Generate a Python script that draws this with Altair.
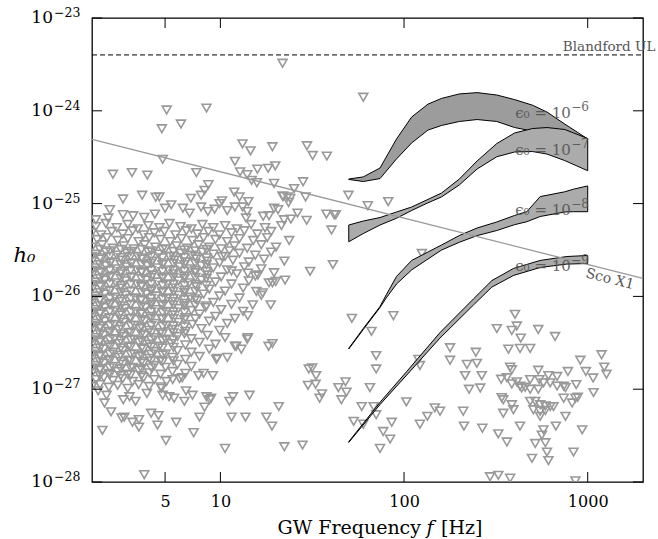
import altair as alt
import pandas as pd

# ---------------- data ----------------
# upper-limit triangles (frequency f [Hz], strain h0)
triangles = [
    # sparse points, upper left / middle
    (5.1, 1.02e-24), (8.4, 1.07e-24), (4.8, 6.4e-25), (6.1, 7.2e-25), (4.85, 3.0e-25),
    (13.2, 4.4e-25), (14.6, 3.7e-25), (19.2, 4.1e-25), (29.6, 4.2e-25), (31.8, 3.3e-25),
    (38.0, 3.25e-25), (12.0, 2.85e-25), (2.6, 2.07e-25), (3.3, 2.16e-25), (4.0, 2.03e-25),
    (7.4, 2.16e-25), (12.8, 2.2e-25), (14.0, 2.05e-25), (15.9, 2.35e-25), (18.2, 2.4e-25),
    (19.9, 2.55e-25), (14.8, 1.78e-25), (15.8, 1.68e-25), (19.6, 1.65e-25), (28.2, 1.72e-25),
    (25.2, 1.45e-25), (22.0, 1.2e-25), (23.2, 1.18e-25), (29.1, 1.18e-25), (23.5, 1.03e-25),
    (49.8, 1.23e-25), (60.0, 1.4e-24), (21.8, 3.25e-24), (2.95, 1.12e-25), (3.75, 1.23e-25),
    (4.45, 1.17e-25), (4.65, 1.18e-25), (5.4, 9.7e-26), (6.9, 1.14e-25), (7.85, 1.23e-25),
    (8.2, 1.39e-25), (8.6, 1.6e-25), (11.9, 1.33e-25), (12.7, 1.18e-25), (14.2, 1.05e-25),
    (21.8, 1.2e-25), (24.0, 1.14e-25), (63.5, 9.5e-26), (82.0, 1.05e-25), (42.5, 7.6e-26),
    (40.3, 5.2e-26), (125.0, 2.9e-26), (41.0, 2.2e-26), (30.8, 1.86e-26),
    # row near 7e-26 .. 1e-25
    (2.5, 8.6e-26), (2.1, 6.7e-26), (2.45, 7.0e-26), (2.95, 7.6e-26), (3.35, 7.4e-26),
    (3.85, 7.1e-26), (4.4, 7.7e-26), (5.0, 8.9e-26), (6.25, 8.9e-26), (6.8, 7.9e-26),
    (7.85, 9.2e-26), (8.55, 8.2e-26), (9.3, 8.7e-26), (9.9, 1.0e-25), (10.2, 1.07e-25),
    (10.9, 8.4e-26), (12.0, 9.2e-26), (13.2, 9.2e-26), (14.0, 8.2e-26), (13.8, 7.0e-26),
    (17.1, 7.3e-26), (18.4, 7.4e-26), (19.6, 8.9e-26), (20.6, 8.6e-26), (22.2, 6.7e-26),
    (24.2, 6.8e-26), (26.3, 7.9e-26), (29.5, 6.6e-26), (37.8, 7.7e-26), (41.6, 7.6e-26),
    # dense low-frequency cloud
    (2.10, 5.65e-26), (2.38, 6.1e-26), (2.73, 5.5e-26), (3.13, 5.95e-26), (3.55, 5.35e-26),
    (4.05, 5.8e-26), (4.66, 5.5e-26), (5.28, 6.1e-26), (6.07, 5.65e-26), (6.95, 5.35e-26),
    (7.98, 5.95e-26), (9.15, 5.5e-26), (10.6, 5.8e-26), (12.3, 5.35e-26), (14.7, 5.95e-26),
    (17.5, 5.5e-26), (21.5, 5.8e-26),
    (2.0, 4.85e-26), (2.24, 4.6e-26), (2.56, 5.0e-26), (2.94, 4.7e-26), (3.33, 5.1e-26),
    (3.82, 4.6e-26), (4.37, 4.85e-26), (4.96, 5.0e-26), (5.7, 4.6e-26), (6.53, 5.1e-26),
    (7.5, 4.7e-26), (8.6, 5.0e-26), (9.9, 4.6e-26), (11.5, 4.85e-26), (13.5, 5.1e-26),
    (15.9, 4.7e-26), (18.9, 5.0e-26),
    (2.13, 4.1e-26), (2.41, 4.3e-26), (2.76, 4.0e-26), (3.13, 4.2e-26), (3.59, 3.9e-26),
    (4.1, 4.3e-26), (4.72, 4.1e-26), (5.34, 3.9e-26), (6.14, 4.2e-26), (7.04, 4.0e-26),
    (8.1, 4.3e-26), (9.4, 4.1e-26), (10.9, 3.9e-26), (12.7, 4.2e-26), (15.1, 4.0e-26),
    (18.0, 4.3e-26), (23.7, 4.0e-26),
    (2.0, 3.4e-26), (2.27, 3.6e-26), (2.6, 3.3e-26), (2.98, 3.5e-26), (3.38, 3.25e-26),
    (3.87, 3.6e-26), (4.43, 3.4e-26), (5.03, 3.25e-26), (5.77, 3.5e-26), (6.6, 3.3e-26),
    (7.6, 3.6e-26), (8.7, 3.4e-26), (10.1, 3.25e-26), (11.9, 3.5e-26), (14.0, 3.3e-26),
    (16.7, 3.6e-26), (20.1, 3.4e-26),
    (2.1, 2.85e-26), (2.38, 3.0e-26), (2.73, 2.78e-26), (3.09, 2.92e-26), (3.55, 2.7e-26),
    (4.05, 3.0e-26), (4.6, 2.85e-26), (5.28, 2.7e-26), (6.07, 2.92e-26), (6.95, 2.78e-26),
    (7.98, 3.0e-26), (9.15, 2.85e-26), (10.6, 2.7e-26), (12.7, 2.92e-26), (15.5, 2.78e-26),
    (18.9, 3.0e-26),
    (2.0, 2.4e-26), (2.24, 2.52e-26), (2.53, 2.35e-26), (2.9, 2.45e-26), (3.29, 2.3e-26),
    (3.77, 2.52e-26), (4.26, 2.4e-26), (4.9, 2.3e-26), (5.62, 2.45e-26), (6.45, 2.35e-26),
    (7.4, 2.52e-26), (8.5, 2.4e-26), (9.9, 2.3e-26), (11.7, 2.45e-26), (14.3, 2.35e-26),
    (17.3, 2.52e-26), (22.3, 2.4e-26),
    (2.1, 2.03e-26), (2.38, 2.13e-26), (2.7, 1.98e-26), (3.09, 2.08e-26), (3.5, 1.93e-26),
    (4.0, 2.13e-26), (4.54, 2.03e-26), (5.21, 1.93e-26), (6.0, 2.08e-26), (6.86, 1.98e-26),
    (7.88, 2.13e-26), (9.15, 2.03e-26), (10.9, 1.93e-26), (13.5, 2.08e-26), (16.7, 1.98e-26),
    (2.0, 1.7e-26), (2.24, 1.8e-26), (2.53, 1.66e-26), (2.87, 1.75e-26), (3.29, 1.62e-26),
    (3.72, 1.8e-26), (4.26, 1.7e-26), (4.84, 1.62e-26), (5.55, 1.75e-26), (6.37, 1.66e-26),
    (7.3, 1.8e-26), (8.5, 1.7e-26), (10.1, 1.62e-26), (12.3, 1.75e-26), (15.5, 1.66e-26),
    (19.6, 1.8e-26),
    (2.1, 1.43e-26), (2.35, 1.5e-26), (2.7, 1.4e-26), (3.05, 1.47e-26), (3.5, 1.36e-26),
    (3.96, 1.5e-26), (4.54, 1.43e-26), (5.15, 1.36e-26), (5.92, 1.47e-26), (6.78, 1.4e-26),
    (7.88, 1.5e-26), (9.4, 1.43e-26), (11.5, 1.36e-26), (14.3, 1.47e-26), (18.4, 1.4e-26),
    (2.0, 1.2e-26), (2.24, 1.27e-26), (2.5, 1.17e-26), (2.87, 1.23e-26), (3.25, 1.14e-26),
    (3.72, 1.27e-26), (4.2, 1.2e-26), (4.84, 1.14e-26), (5.48, 1.23e-26), (6.37, 1.17e-26),
    (7.4, 1.27e-26), (8.7, 1.2e-26), (10.6, 1.14e-26), (13.3, 1.23e-26),
    (2.1, 1.01e-26), (2.35, 1.06e-26), (2.67, 9.8e-27), (3.05, 1.03e-26), (3.46, 9.6e-27),
    (3.96, 1.06e-26), (4.48, 1.01e-26), (5.15, 9.6e-27), (5.92, 1.03e-26), (6.86, 9.8e-27),
    (8.1, 1.06e-26), (9.9, 1.01e-26), (12.7, 9.6e-27), (16.7, 1.03e-26),
    (2.0, 8.6e-27), (2.21, 9.0e-27), (2.5, 8.4e-27), (2.83, 8.8e-27), (3.25, 8.2e-27),
    (3.68, 9.0e-27), (4.2, 8.6e-27), (4.78, 8.2e-27), (5.48, 8.8e-27), (6.37, 8.4e-27),
    (7.5, 9.0e-27), (9.15, 8.6e-27), (11.5, 8.2e-27),
    (2.1, 7.2e-27), (2.35, 7.6e-27), (2.67, 7.05e-27), (3.02, 7.4e-27), (3.46, 6.9e-27),
    (3.91, 7.6e-27), (4.48, 7.2e-27), (5.09, 6.9e-27), (5.92, 7.4e-27), (6.95, 7.05e-27),
    (8.3, 7.6e-27), (10.1, 7.2e-27), (13.3, 6.9e-27),
    (2.0, 6.1e-27), (2.21, 6.45e-27), (2.5, 5.9e-27), (2.83, 6.3e-27), (3.21, 5.8e-27),
    (3.68, 6.45e-27), (4.15, 6.1e-27), (4.78, 5.8e-27), (5.48, 6.3e-27), (6.45, 5.9e-27),
    (7.7, 6.45e-27), (9.4, 6.1e-27), (12.0, 5.8e-27),
    (2.1, 5.1e-27), (2.35, 5.4e-27), (2.64, 5.0e-27), (2.98, 5.25e-27), (3.42, 4.9e-27),
    (3.87, 5.4e-27), (4.43, 5.1e-27), (5.09, 4.9e-27), (5.92, 5.25e-27), (7.04, 5.0e-27),
    (8.7, 5.4e-27), (10.9, 5.1e-27),
    (2.0, 4.3e-27), (2.21, 4.5e-27), (2.47, 4.2e-27), (2.8, 4.4e-27), (3.17, 4.1e-27),
    (3.63, 4.5e-27), (4.1, 4.3e-27), (4.72, 4.1e-27), (5.48, 4.4e-27), (6.45, 4.2e-27),
    (7.88, 4.5e-27), (9.9, 4.3e-27),
    (2.1, 3.6e-27), (2.32, 3.8e-27), (2.64, 3.5e-27), (2.98, 3.7e-27), (3.38, 3.45e-27),
    (3.87, 3.8e-27), (4.37, 3.6e-27), (5.03, 3.45e-27), (5.84, 3.7e-27), (6.95, 3.5e-27),
    (8.5, 3.8e-27), (10.6, 3.6e-27), (14.0, 3.45e-27),
    (2.0, 3.05e-27), (2.21, 3.2e-27), (2.47, 3.0e-27), (2.8, 3.1e-27), (3.17, 2.9e-27),
    (3.59, 3.2e-27), (4.1, 3.05e-27), (4.66, 2.9e-27), (5.4, 3.1e-27), (6.45, 3.0e-27),
    (7.7, 3.2e-27), (9.4, 3.05e-27), (12.0, 2.9e-27),
    (2.1, 2.55e-27), (2.32, 2.7e-27), (2.6, 2.5e-27), (2.94, 2.6e-27), (3.38, 2.4e-27),
    (3.82, 2.7e-27), (4.37, 2.55e-27), (5.03, 2.4e-27), (5.84, 2.6e-27), (6.95, 2.5e-27),
    (8.7, 2.7e-27),
    (2.0, 2.15e-27), (2.21, 2.25e-27), (2.47, 2.1e-27), (2.8, 2.2e-27), (3.17, 2.05e-27),
    (3.59, 2.25e-27), (4.1, 2.15e-27), (4.72, 2.05e-27), (5.48, 2.2e-27), (6.45, 2.1e-27),
    (7.7, 2.25e-27), (9.6, 2.15e-27),
    (2.1, 1.8e-27), (2.32, 1.9e-27), (2.6, 1.76e-27), (2.94, 1.85e-27), (3.33, 1.72e-27),
    (3.82, 1.9e-27), (4.37, 1.8e-27), (5.03, 1.72e-27), (5.84, 1.85e-27), (6.95, 1.76e-27),
    (2.0, 1.5e-27), (2.21, 1.6e-27), (2.47, 1.48e-27), (2.76, 1.55e-27), (3.13, 1.45e-27),
    (3.59, 1.6e-27), (4.1, 1.5e-27), (4.72, 1.45e-27), (5.48, 1.55e-27), (6.45, 1.48e-27),
    (2.1, 1.27e-27), (2.32, 1.34e-27), (2.6, 1.24e-27), (2.94, 1.3e-27), (3.33, 1.21e-27),
    (3.82, 1.34e-27), (4.37, 1.27e-27), (5.09, 1.21e-27), (6.0, 1.3e-27),
    (2.0, 1.07e-27), (2.21, 1.12e-27), (2.47, 1.05e-27), (2.76, 1.1e-27), (3.13, 1.02e-27),
    (3.59, 1.12e-27), (4.1, 1.07e-27), (4.78, 1.02e-27),
    # extra points filling the core of the cloud
    (2.21, 3.2e-26), (2.5, 3.1e-26), (2.87, 3.2e-26), (3.25, 3.05e-26), (3.72, 3.2e-26),
    (4.2, 3.1e-26), (4.84, 3.2e-26), (5.55, 3.05e-26), (6.37, 3.15e-26), (7.3, 3.1e-26),
    (8.4, 3.2e-26), (11.2, 3.1e-26),
    (2.0, 2.7e-26), (2.21, 2.6e-26), (2.5, 2.7e-26), (2.87, 2.62e-26), (3.25, 2.7e-26),
    (3.72, 2.6e-26), (4.2, 2.68e-26), (4.84, 2.6e-26), (5.55, 2.7e-26), (6.37, 2.62e-26),
    (7.3, 2.68e-26), (8.4, 2.6e-26), (10.2, 2.68e-26),
    (2.21, 2.2e-26), (2.5, 2.28e-26), (2.87, 2.2e-26), (3.25, 2.26e-26), (3.72, 2.2e-26),
    (4.2, 2.27e-26), (4.84, 2.2e-26), (5.55, 2.25e-26), (6.37, 2.2e-26), (7.3, 2.26e-26),
    (8.4, 2.2e-26),
    (2.0, 1.9e-26), (2.21, 1.86e-26), (2.5, 1.9e-26), (2.87, 1.85e-26), (3.25, 1.9e-26),
    (3.72, 1.86e-26), (4.2, 1.9e-26), (4.84, 1.85e-26), (5.55, 1.9e-26), (6.37, 1.86e-26),
    (7.3, 1.9e-26), (8.4, 1.85e-26), (11.5, 1.88e-26),
    (2.21, 1.56e-26), (2.5, 1.6e-26), (2.87, 1.56e-26), (3.25, 1.6e-26), (3.72, 1.55e-26),
    (4.2, 1.6e-26), (4.84, 1.56e-26), (5.55, 1.6e-26), (6.37, 1.56e-26), (7.3, 1.6e-26),
    (8.4, 1.56e-26),
    (2.0, 1.35e-26), (2.21, 1.31e-26), (2.5, 1.35e-26), (2.87, 1.31e-26), (3.25, 1.35e-26),
    (3.72, 1.32e-26), (4.2, 1.35e-26), (4.84, 1.31e-26), (5.55, 1.35e-26), (6.37, 1.31e-26),
    (7.3, 1.34e-26), (8.4, 1.31e-26),
    (2.21, 1.1e-26), (2.5, 1.14e-26), (2.87, 1.1e-26), (3.25, 1.13e-26), (3.72, 1.1e-26),
    (4.2, 1.14e-26), (4.84, 1.1e-26), (5.55, 1.13e-26), (6.37, 1.1e-26), (7.3, 1.13e-26),
    (2.0, 9.5e-27), (2.21, 9.3e-27), (2.5, 9.5e-27), (2.87, 9.3e-27), (3.25, 9.5e-27),
    (3.72, 9.2e-27), (4.2, 9.5e-27), (4.84, 9.3e-27), (5.55, 9.5e-27), (6.37, 9.2e-27),
    (7.3, 9.4e-27),
    (2.21, 7.9e-27), (2.5, 8.1e-27), (2.87, 7.9e-27), (3.25, 8.1e-27), (3.72, 7.9e-27),
    (4.2, 8.1e-27), (4.84, 7.9e-27), (5.55, 8.1e-27), (6.37, 7.9e-27), (7.3, 8.0e-27),
    (8.4, 7.9e-27),
    (2.0, 6.8e-27), (2.21, 6.7e-27), (2.5, 6.85e-27), (2.87, 6.7e-27), (3.25, 6.8e-27),
    (3.72, 6.65e-27), (4.2, 6.8e-27), (4.84, 6.7e-27), (5.55, 6.8e-27), (6.37, 6.7e-27),
    (2.21, 5.65e-27), (2.5, 5.8e-27), (2.87, 5.65e-27), (3.25, 5.8e-27), (3.72, 5.6e-27),
    (4.2, 5.8e-27), (4.84, 5.65e-27), (5.55, 5.75e-27), (6.37, 5.6e-27), (7.3, 5.75e-27),
    (2.0, 4.85e-27), (2.21, 4.75e-27), (2.5, 4.85e-27), (2.87, 4.75e-27), (3.25, 4.85e-27),
    (3.72, 4.7e-27), (4.2, 4.85e-27), (4.84, 4.75e-27), (5.55, 4.8e-27), (6.37, 4.7e-27),
    (2.21, 3.95e-27), (2.5, 4.05e-27), (2.87, 3.95e-27), (3.25, 4.05e-27), (3.72, 3.95e-27),
    (4.2, 4.05e-27), (4.84, 3.95e-27), (5.55, 4.05e-27), (6.37, 3.95e-27),
    (2.0, 3.4e-27), (2.21, 3.35e-27), (2.5, 3.42e-27), (2.87, 3.35e-27), (3.25, 3.4e-27),
    (3.72, 3.33e-27), (4.2, 3.4e-27), (4.84, 3.35e-27), (5.55, 3.4e-27),
    (2.21, 2.78e-27), (2.5, 2.85e-27), (2.87, 2.78e-27), (3.25, 2.85e-27), (3.72, 2.78e-27),
    (4.2, 2.85e-27), (4.84, 2.78e-27), (5.55, 2.82e-27),
    (2.0, 2.38e-27), (2.21, 2.33e-27), (2.5, 2.38e-27), (2.87, 2.33e-27), (3.25, 2.38e-27),
    (3.72, 2.33e-27), (4.2, 2.38e-27), (4.84, 2.33e-27),
    (2.21, 1.98e-27), (2.5, 2.03e-27), (2.87, 1.98e-27), (3.25, 2.02e-27), (3.72, 1.98e-27),
    (4.2, 2.02e-27), (4.84, 1.98e-27), (5.55, 2.02e-27),
    (2.0, 1.7e-27), (2.21, 1.66e-27), (2.5, 1.7e-27), (2.87, 1.66e-27), (3.25, 1.7e-27),
    (3.72, 1.66e-27), (4.2, 1.7e-27),
    (2.21, 1.4e-27), (2.5, 1.43e-27), (2.87, 1.4e-27), (3.25, 1.43e-27), (3.72, 1.4e-27),
    # lower edge of the cloud and sparse low points
    (2.34, 7.1e-28), (2.16, 9.6e-28), (2.4, 8.6e-28), (2.96, 7.7e-28), (3.2, 8.3e-28),
    (3.45, 7.4e-28), (3.98, 9.0e-28), (4.85, 8.6e-28), (5.26, 8.3e-28), (5.6, 8.0e-28),
    (6.37, 7.4e-28), (7.05, 8.6e-28), (8.4, 8.3e-28), (8.75, 7.7e-28), (6.5, 9.6e-28),
    (4.75, 1.06e-27), (2.54, 5.7e-28), (2.9, 4.9e-28), (3.0, 5.0e-28), (3.6, 4.7e-28),
    (3.32, 4.4e-28), (4.2, 5.5e-28), (4.6, 5.2e-28), (4.55, 4.1e-28), (5.75, 4.4e-28),
    (3.6, 3.9e-28), (2.28, 3.6e-28), (5.05, 2.8e-28), (7.15, 3.4e-28), (7.7, 5.0e-28),
    (8.2, 6.4e-28), (8.9, 8.0e-28), (11.2, 7.4e-28), (11.7, 8.3e-28), (14.4, 8.6e-28),
    (20.8, 6.5e-28), (11.5, 5.0e-28), (13.7, 5.0e-28), (17.8, 5.0e-28), (19.1, 4.0e-28),
    (10.6, 2.3e-28), (22.3, 2.4e-28), (28.0, 2.5e-28), (3.85, 1.2e-28),
    (5.5, 1.27e-27), (6.2, 1.33e-27), (7.6, 1.4e-27), (8.1, 1.48e-27), (9.1, 1.4e-27),
    (9.5, 2.1e-27), (10.9, 2.2e-27), (12.2, 2.9e-27), (13.0, 2.7e-27), (14.1, 3.6e-27),
    (18.3, 2.9e-27), (19.2, 3.1e-27), (14.1, 6.2e-27), (15.0, 8.1e-27), (18.8, 8.1e-27),
    (15.7, 1.13e-26), (17.0, 1.09e-26), (19.2, 1.4e-26), (20.0, 1.45e-26), (22.5, 1.5e-26),
    (14.1, 1.78e-26), (16.0, 1.7e-26),
    (30.3, 1.65e-27), (31.6, 1.7e-27), (33.2, 1.4e-27), (30.0, 1.1e-27), (33.0, 1.13e-27),
    (35.7, 8.9e-28), (34.7, 8.0e-28),
    # middle and high-frequency cluster
    (52.0, 5.8e-27), (87.5, 6.2e-27), (66.5, 4.2e-27), (70.5, 2.3e-27), (70.5, 1.65e-27),
    (48.0, 1.2e-27), (43.9, 1.04e-27), (48.6, 9.3e-28), (45.6, 7.7e-28), (65.2, 1.04e-27),
    (58.8, 6.5e-28), (68.3, 6.5e-28), (70.5, 5.3e-28), (53.2, 4.5e-28), (60.0, 4.2e-28),
    (77.0, 3.5e-28), (85.7, 4.4e-28), (84.0, 2.9e-28), (74.0, 2.3e-28), (103.0, 7.3e-28),
    (122.0, 1.8e-27), (119.8, 2.1e-27), (122.0, 4.2e-28), (134.0, 5.1e-28), (147.0, 6.3e-28),
    (157.0, 5.8e-28), (178.0, 2.8e-27), (178.0, 2.05e-27), (210.0, 5.8e-28), (212.0, 4.0e-28),
    (246.0, 2.5e-27), (220.0, 1.85e-27), (249.0, 1.9e-27), (215.0, 1.4e-27), (265.0, 1.4e-27),
    (226.0, 1.0e-27), (260.0, 1.03e-27), (267.0, 3.8e-28), (326.0, 3.3e-28), (363.0, 2.7e-28),
    (320.0, 4.5e-27), (386.0, 4.3e-27), (411.0, 4.8e-27), (402.0, 6.4e-27), (432.0, 3.55e-27),
    (370.0, 2.7e-27), (486.0, 2.75e-27), (378.0, 1.73e-27), (386.0, 1.62e-27), (363.0, 1.33e-27),
    (338.0, 1.28e-27), (340.0, 8.1e-28), (347.0, 7.7e-28), (386.0, 6.8e-28), (394.0, 6.0e-28),
    (347.0, 5.5e-28), (428.0, 1.08e-27), (437.0, 1.03e-27), (456.0, 1.05e-27), (411.0, 1.2e-27),
    (386.0, 1.14e-27), (486.0, 1.27e-27), (538.0, 1.6e-27), (545.0, 1.27e-27), (611.0, 1.4e-27),
    (681.0, 1.37e-27), (486.0, 1.0e-27), (538.0, 1.0e-27), (574.0, 1.17e-27), (625.0, 1.17e-27),
    (681.0, 1.08e-27), (740.0, 1.08e-27), (780.0, 1.55e-27), (866.0, 1.12e-27), (757.0, 1.04e-27),
    (486.0, 7.4e-28), (518.0, 7.4e-28), (551.0, 6.8e-28), (588.0, 6.6e-28), (625.0, 6.5e-28),
    (651.0, 6.5e-28), (506.0, 6.0e-28), (551.0, 5.8e-28), (588.0, 5.9e-28), (551.0, 5.1e-28),
    (428.0, 4.0e-28), (574.0, 3.65e-28), (563.0, 3.2e-28), (671.0, 4.0e-28), (757.0, 5.1e-28),
    (857.0, 8.0e-28), (822.0, 7.1e-28), (883.0, 8.2e-28), (933.0, 3.65e-28), (740.0, 8.0e-28),
    (518.0, 2.6e-28), (588.0, 2.65e-28), (600.0, 2.1e-28), (497.0, 1.8e-28), (611.0, 1.7e-28),
    (837.0, 2.1e-28), (664.0, 3.7e-27), (538.0, 4.4e-27), (428.0, 2.75e-27), (912.0, 2.05e-27),
    (977.0, 1.55e-27), (1070.0, 1.32e-27), (1190.0, 2.35e-27), (1230.0, 1.73e-27), (1265.0, 1.45e-27),
    (1075.0, 9.2e-28), (294.0, 1.14e-28), (326.0, 1.18e-28), (378.0, 1.1e-28), (857.0, 1.03e-28),
]

# spin-down bands, one per epsilon_0
band_f = [50, 60, 74, 91, 110, 135, 160, 200, 250, 320, 400, 500, 600, 750, 1000]
band1_lo = [1.82e-25, 1.73e-25, 1.86e-25, 3.03e-25, 4.5e-25, 6.2e-25, 6.95e-25, 7.67e-25,
            8.05e-25, 7.67e-25, 6.6e-25, 6.05e-25, 5.6e-25, 5.2e-25, 4.9e-25]
band1_hi = [1.84e-25, 1.94e-25, 2.42e-25, 4.97e-25, 8.57e-25, 1.18e-24, 1.36e-24, 1.52e-24,
            1.57e-24, 1.48e-24, 1.32e-24, 1.15e-24, 9.7e-25, 7.2e-25, 4.97e-25]
band2_lo = [3.88e-26, 4.76e-26, 5.88e-26, 6.95e-26, 8.43e-26, 1.02e-25, 1.18e-25, 1.59e-25,
            2.36e-25, 3.2e-25, 3.6e-25, 3.64e-25, 3.42e-25, 2.91e-25, 2.26e-25]
band2_hi = [5.88e-26, 6.49e-26, 7.08e-26, 8.12e-26, 9.19e-26, 1.11e-25, 1.3e-25, 1.84e-25,
            2.88e-25, 4.44e-25, 5.77e-25, 6.44e-25, 6.6e-25, 6.29e-25, 5.03e-25]

band3_f = [50, 60, 74, 80, 91, 110, 135, 160, 200, 250, 320, 400, 466, 551, 750, 837, 1000]
band3_lo = [2.71e-27, 4.4e-27, 7.59e-27, 9.62e-27, 1.36e-26, 1.93e-26, 2.53e-26, 3.16e-26,
            3.83e-26, 4.52e-26, 5.13e-26, 5.93e-26, 6.38e-26, 7.26e-26, 8.12e-26, 8.18e-26, 8.18e-26]
band3_hi = [2.76e-27, 4.51e-27, 7.78e-27, 1.04e-26, 1.64e-26, 2.44e-26, 3.01e-26, 3.58e-26,
            4.53e-26, 5.46e-26, 6.34e-26, 7.45e-26, 8.18e-26, 1.19e-25, 1.34e-25, 1.43e-25, 1.55e-25]

band4_f = [50, 74, 103.4, 157, 238.6, 300.6, 394, 551, 770, 1000]
band4_lo = [2.67e-28, 6.84e-28, 1.42e-27, 3.56e-27, 8.07e-27, 1.26e-26, 1.68e-26, 2.05e-26, 2.23e-26, 2.26e-26]
band4_hi = [2.72e-28, 7.23e-28, 1.55e-27, 4.08e-27, 9.38e-27, 1.48e-26, 2.0e-26, 2.44e-26, 2.69e-26, 2.76e-26]

band_fill = ["#9c9c9c", "#ababab", "#ababab", "#ababab"]

# Sco X-1 torque-balance line and Blandford upper limit
scox1_f = [2, 2000]
scox1_h = [4.93e-25, 1.56e-26]
blandford_h = [4.0e-24]

# in-plot labels
eps_base = ["ϵ₀ = 10", "ϵ₀ = 10", "ϵ₀ = 10", "ϵ₀ = 10"]
eps_exp = ["−6", "−7", "−8", "−9"]
eps_f = [403, 403, 403, 403]
eps_h = [9.5e-25, 3.8e-25, 8.5e-26, 2.1e-26]

# axes
x_domain = [2, 2000]
y_domain = [1e-28, 1e-23]
x_ticks = [5, 10, 100, 1000]
y_ticks = [1e-28, 1e-27, 1e-26, 1e-25, 1e-24, 1e-23]
y_tick_base = ["10", "10", "10", "10", "10", "10"]
y_tick_exp = ["−28", "−27", "−26", "−25", "−24", "−23"]
x_title_parts = ["GW Frequency", "f", "[Hz]"]

# ---------------- chart ----------------
W, H = 551, 464
FONT = "DejaVu Serif"

xs = alt.Scale(type="log", domain=x_domain, nice=False)
ys = alt.Scale(type="log", domain=y_domain, nice=False)

x_axis = alt.Axis(values=x_ticks, format="d", labelPadding=11, labelFlush=False,
                  labelOverlap=False, labelFont=FONT, labelFontSize=16, title="")
y_axis = alt.Axis(values=y_ticks, labels=False,
                  title="h₀", titleFont=FONT, titleAngle=0, titleX=-68, titleY=237,
                  titleAlign="center", titleBaseline="middle", titleFontStyle="italic",
                  titleFontSize=21, titleFontWeight="normal")


def X(field):
    return alt.X(f"{field}:Q", scale=xs, axis=x_axis)


def Y(field):
    return alt.Y(f"{field}:Q", scale=ys, axis=y_axis)


tri_df = pd.DataFrame({"f": [p[0] for p in triangles], "h": [p[1] for p in triangles]})
points = alt.Chart(tri_df).mark_point(
    shape="triangle-down", size=80, filled=False, stroke="#999999", strokeWidth=1.6,
    opacity=1, clip=True
).encode(x=X("f"), y=Y("h"))

bl_df = pd.DataFrame({"h": blandford_h})
blandford = alt.Chart(bl_df).mark_rule(color="black", strokeWidth=1, strokeDash=[5, 3]).encode(
    y=Y("h"), x=alt.value(0), x2=alt.value(W))

bands = []
for i, (bf, lo, hi) in enumerate([(band_f, band1_lo, band1_hi), (band_f, band2_lo, band2_hi),
                                  (band3_f, band3_lo, band3_hi), (band4_f, band4_lo, band4_hi)]):
    bdf = pd.DataFrame({"f": bf, "lo": lo, "hi": hi})
    bands.append(alt.Chart(bdf).mark_area(
        fill=band_fill[i], stroke="black", strokeWidth=1, opacity=1, clip=True
    ).encode(x=X("f"), y=Y("lo"), y2="hi:Q"))

sco_df = pd.DataFrame({"f": scox1_f, "h": scox1_h})
sco = alt.Chart(sco_df).mark_line(color="#999999", strokeWidth=1.3, clip=True).encode(
    x=X("f"), y=Y("h"))

eps_df = pd.DataFrame({"t": eps_base, "e": eps_exp, "f": eps_f, "h": eps_h})
eps_labels = alt.Chart(eps_df).mark_text(
    align="left", baseline="middle", font=FONT, fontSize=15, color="#555555", opacity=0.9
).encode(x=X("f"), y=Y("h"), text="t:N")
eps_exps = alt.Chart(eps_df).mark_text(
    align="left", baseline="middle", font=FONT, fontSize=12, color="#555555", opacity=0.9,
    dx=56, dy=-6
).encode(x=X("f"), y=Y("h"), text="e:N")

bl_lab = alt.Chart(pd.DataFrame({"t": ["Blandford UL"], "f": [2335], "h": [4.4e-24]})).mark_text(
    align="right", baseline="alphabetic", font=FONT, fontSize=13.5, color="#555555"
).encode(x=X("f"), y=Y("h"), text="t:N")

sco_lab = alt.Chart(pd.DataFrame({"t": ["Sco X1"], "f": [1000], "h": [2.1e-26]})).mark_text(
    align="left", baseline="top", font=FONT, fontSize=14, color="#555555", angle=14
).encode(x=X("f"), y=Y("h"), text="t:N")

# y tick labels written as 10 with a raised exponent
yl_df = pd.DataFrame({"v": y_ticks, "b": y_tick_base, "e": y_tick_exp})
ylab_base = alt.Chart(yl_df).mark_text(
    align="right", baseline="middle", font=FONT, fontSize=17, color="black"
).encode(y=Y("v"), x=alt.value(-39), text="b:N")
ylab_exp = alt.Chart(yl_df).mark_text(
    align="left", baseline="middle", font=FONT, fontSize=12.5, color="black", dy=-5
).encode(y=Y("v"), x=alt.value(-38), text="e:N")

# x axis title with an italic f
XT = 338
xt1 = alt.Chart(pd.DataFrame({"t": [x_title_parts[0]]})).mark_text(
    align="right", baseline="alphabetic", font=FONT, fontSize=19, color="black"
).encode(text="t:N", x=alt.value(XT - 9), y=alt.value(H + 52))
xt2 = alt.Chart(pd.DataFrame({"t": [x_title_parts[1]]})).mark_text(
    align="center", baseline="alphabetic", font=FONT, fontSize=19, fontStyle="italic",
    color="black"
).encode(text="t:N", x=alt.value(XT), y=alt.value(H + 52))
xt3 = alt.Chart(pd.DataFrame({"t": [x_title_parts[2]]})).mark_text(
    align="left", baseline="alphabetic", font=FONT, fontSize=19, color="black"
).encode(text="t:N", x=alt.value(XT + 11), y=alt.value(H + 52))

# inward tick marks on all four sides
yt_df = pd.DataFrame({"v": y_ticks})
xt_df = pd.DataFrame({"v": x_ticks})
tick_l = alt.Chart(yt_df).mark_rule(color="black", strokeWidth=1).encode(
    y=Y("v"), x=alt.value(0), x2=alt.value(10))
tick_r = alt.Chart(yt_df).mark_rule(color="black", strokeWidth=1).encode(
    y=Y("v"), x=alt.value(W - 10), x2=alt.value(W))
tick_b = alt.Chart(xt_df).mark_rule(color="black", strokeWidth=1).encode(
    x=X("v"), y=alt.value(H), y2=alt.value(H - 10))
tick_t = alt.Chart(xt_df).mark_rule(color="black", strokeWidth=1).encode(
    x=X("v"), y=alt.value(0), y2=alt.value(10))

chart = alt.layer(
    points, blandford, *bands, sco, eps_labels, eps_exps, bl_lab, sco_lab,
    ylab_base, ylab_exp, xt1, xt2, xt3, tick_l, tick_r, tick_b, tick_t
).properties(
    width=W, height=H,
    padding={"left": 92, "top": 18, "right": 15, "bottom": 57},
    autosize=alt.AutoSizeParams(type="none"),
).configure_view(
    stroke="black", strokeWidth=1.3
).configure_axis(
    grid=False, domain=False, ticks=False,
    labelFont=FONT, labelFontSize=16, labelColor="black",
    titleFont=FONT, titleColor="black", titleFontWeight="normal",
)

chart.save("out.html", embed_options={"renderer": "svg", "actions": False})
